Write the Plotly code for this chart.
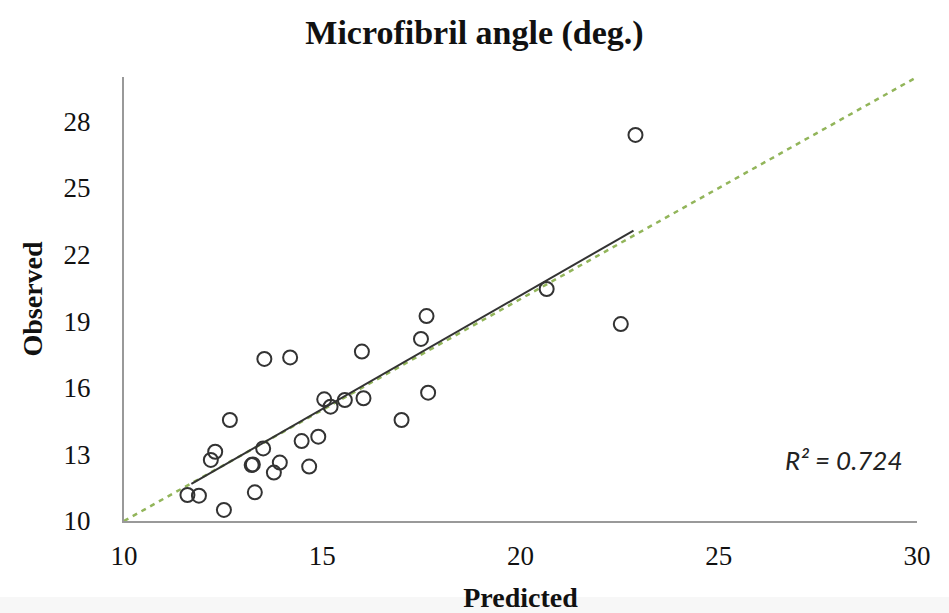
import plotly.graph_objects as go

# Observed vs predicted microfibril angle (deg.)
predicted = [17.63, 17.49, 16.00, 13.54, 14.19, 15.05, 15.21, 15.57, 16.04, 17.67,
             17.00, 12.67, 14.90, 14.48, 13.51, 12.30, 12.19, 13.25, 13.22, 13.93,
             13.78, 14.67, 11.60, 11.89, 13.30, 12.52, 22.90, 22.53, 20.66]
observed = [19.23, 18.20, 17.63, 17.30, 17.37, 15.48, 15.15, 15.45, 15.53, 15.78,
            14.55, 14.55, 13.80, 13.60, 13.27, 13.12, 12.75, 12.55, 12.52, 12.63,
            12.18, 12.45, 11.17, 11.14, 11.29, 10.50, 27.39, 18.87, 20.45]

# fitted trend line endpoints (as drawn)
trend_x = [11.70, 22.85]
trend_y = [11.67, 23.08]

# 1:1 reference line
ref_x = [10, 30]
ref_y = [10, 30]

x_ticks = [10, 15, 20, 25, 30]
y_ticks = [10, 13, 16, 19, 22, 25, 28]

serif = "Liberation Serif, Times New Roman, serif"

fig = go.Figure()
fig.add_trace(go.Scatter(x=ref_x, y=ref_y, mode="lines",
                         line=dict(color="#92b55a", width=2.5, dash="5px,5px"),
                         hoverinfo="skip", showlegend=False))
fig.add_trace(go.Scatter(x=trend_x, y=trend_y, mode="lines",
                         line=dict(color="#333333", width=2),
                         hoverinfo="skip", showlegend=False))
fig.add_trace(go.Scatter(x=predicted, y=observed, mode="markers",
                         marker=dict(symbol="circle-open", size=14, color="#333333",
                                     line=dict(color="#333333", width=2)),
                         showlegend=False))

fig.add_annotation(x=0.985, y=0.137, xref="paper", yref="paper",
                   text="<i>R² = 0.724</i>", showarrow=False,
                   xanchor="right", yanchor="middle",
                   font=dict(family="Lato, sans-serif", size=26, color="#222"))

# light grey strip at the bottom of the image
fig.add_shape(type="rect", xref="paper", yref="paper", x0=-0.2, x1=1.1,
              y0=-0.171, y1=-0.25, line=dict(width=0), fillcolor="#f7f7f7",
              layer="below")

fig.update_layout(
    width=949, height=613,
    margin=dict(l=124, r=32, t=77, b=92),
    paper_bgcolor="white", plot_bgcolor="white",
    title=dict(text="<b>Microfibril angle (deg.)</b>", x=0.5, xanchor="center",
               y=0.948, yanchor="middle",
               font=dict(family=serif, size=34, color="#111")),
    font=dict(family=serif, size=27, color="#111"),
    xaxis=dict(range=[10, 30], tickvals=x_ticks, showgrid=False, zeroline=False,
               showline=True, linecolor="#999999", linewidth=2, automargin=False,
               ticks="", ticklabelstandoff=10, tickfont=dict(size=27),
               title=dict(text="<b>Predicted</b>", standoff=22,
                          font=dict(family=serif, size=28, color="#111"))),
    yaxis=dict(range=[10, 30], tickvals=y_ticks, showgrid=False, zeroline=False,
               showline=True, linecolor="#999999", linewidth=2, automargin=False,
               ticks="", ticklabelstandoff=26, tickfont=dict(size=27),
               title=dict(text="<b>Observed</b>", standoff=13,
                          font=dict(family=serif, size=28, color="#111"))),
)

fig.write_html("out.html")
